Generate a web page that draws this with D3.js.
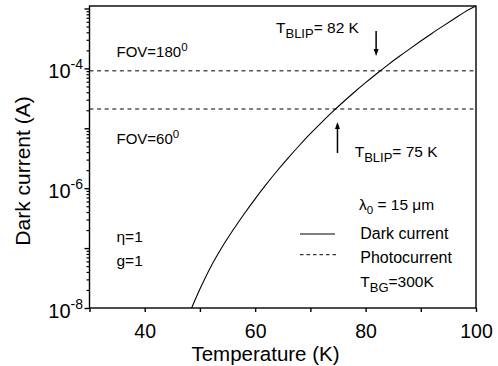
<!DOCTYPE html>
<html><head><meta charset="utf-8">
<script src="https://cdn.jsdelivr.net/npm/d3@7"></script>
<style>
html,body{margin:0;padding:0;background:#fff;}
svg{display:block;font-family:"Liberation Sans",Arial,Helvetica,sans-serif;}
</style></head>
<body><svg id="c" width="498" height="366"></svg>
<script>
// ---- data ----
const temperature = [48.5,50,52,54,56,58,60,62,64,66,68,70,72,74,76,78,80,82,84,86,88,90,92,94,96,98,100];
const darkCurrent = [1.0e-8,2.07e-8,4.95e-8,1.035e-7,2.0e-7,3.71e-7,6.65e-7,1.156e-6,1.954e-6,3.21e-6,5.16e-6,8.11e-6,1.245e-5,1.875e-5,2.77e-5,4.03e-5,5.77e-5,8.15e-5,1.135e-4,1.56e-4,2.12e-4,2.86e-4,3.83e-4,5.07e-4,6.68e-4,8.77e-4,1.1e-3];
const fovLabels = ["FOV=180", "FOV=60"];
const photoCurrent = [9.1e-5, 2.1e-5];
const tBlip = [82, 75];
const xTicks = [30,40,50,60,70,80,90,100];
const xTickLabels = [40,60,80,100];
const yMajorExp = [-8,-7,-6,-5,-4,-3];
const yLabelExp = [-8,-6,-4];

const svg = d3.select("#c");
const L=89.5, R=476, T=6, B=308;
const x = d3.scaleLinear().domain([30,100]).range([L,R]);
const y = d3.scaleLog().domain([1e-8,1.1e-3]).range([B,T]);
const ink="#000";

// clip
svg.append("defs").append("clipPath").attr("id","clip")
  .append("rect").attr("x",L).attr("y",T).attr("width",R-L).attr("height",B-T);

// photocurrent dashed lines
svg.append("g").attr("clip-path","url(#clip)").selectAll("line").data(photoCurrent).join("line")
  .attr("x1",x(30)).attr("x2",x(100))
  .attr("y1",d=>y(d)).attr("y2",d=>y(d))
  .attr("stroke",ink).attr("stroke-width",1).attr("stroke-dasharray","4,3.6");

// dark current curve
const line = d3.line().x((d,i)=>x(temperature[i])).y(d=>y(d)).curve(d3.curveMonotoneX);
svg.append("path").attr("clip-path","url(#clip)").datum(darkCurrent).attr("d",line)
  .attr("fill","none").attr("stroke",ink).attr("stroke-width",1.1);

// frame
svg.append("rect").attr("x",L).attr("y",T).attr("width",R-L).attr("height",B-T)
  .attr("fill","none").attr("stroke",ink).attr("stroke-width",1.4);

// x axis
const xa = svg.append("g").attr("transform",`translate(0,${B})`)
  .call(d3.axisBottom(x).tickValues(xTicks).tickSize(4).tickFormat(d=>xTickLabels.includes(d)?d:""));
xa.select(".domain").remove();
xa.selectAll(".tick line").attr("stroke",ink).attr("stroke-width",1.4);
xa.selectAll(".tick text").attr("y",30).attr("dy",0).attr("font-size",19.5).attr("fill",ink)
  .attr("font-family","Liberation Sans, Arial, sans-serif");

// y axis
const majors = yMajorExp.map(e=>Math.pow(10,e));
const minors = [];
yMajorExp.forEach(e=>{for(let m=2;m<=9;m++){const v=m*Math.pow(10,e); if(v<=1.1e-3) minors.push(v);}});
const ya = svg.append("g").attr("transform",`translate(${L},0)`)
  .call(d3.axisLeft(y).tickValues(majors).tickSize(5).tickFormat(""));
ya.select(".domain").remove();
ya.selectAll(".tick line").attr("stroke",ink).attr("stroke-width",1.4);
const ym = svg.append("g").attr("transform",`translate(${L},0)`)
  .call(d3.axisLeft(y).tickValues(minors).tickSize(3).tickFormat(""));
ym.select(".domain").remove();
ym.selectAll(".tick line").attr("stroke",ink).attr("stroke-width",1.2);

// y labels
const yl = svg.append("g").selectAll("text").data(yLabelExp).join("text")
  .attr("x",83).attr("y",e=>y(Math.pow(10,e))+10).attr("text-anchor","end")
  .attr("font-size",20).attr("fill",ink);
yl.append("tspan").text("10");
yl.append("tspan").attr("dy",-9).attr("font-size",14).text(e=>"-"+(-e));

// axis titles
svg.append("text").attr("x",(188+343)/2).attr("y",360.5).attr("text-anchor","middle")
  .attr("font-size",20.5).attr("fill",ink).text("Temperature (K)");
svg.append("text").attr("transform","translate(30,171) rotate(-90)").attr("text-anchor","middle")
  .attr("font-size",21).attr("fill",ink).text("Dark current (A)");

// annotations
const fs=15.5, sub=13;
function fov(xp,yp,txt){
  const t=svg.append("text").attr("x",xp).attr("y",yp).attr("font-size",15).attr("fill",ink);
  t.append("tspan").text(txt);
  t.append("tspan").attr("dy",-6).attr("font-size",11.5).text("0");
}
fov(116.5,57,fovLabels[0]);
fov(116.5,144,fovLabels[1]);

function blip(xp,yp,val){
  const t=svg.append("text").attr("x",xp).attr("y",yp).attr("font-size",fs).attr("fill",ink);
  t.append("tspan").text("T");
  t.append("tspan").attr("dy",5).attr("font-size",sub).text("BLIP");
  t.append("tspan").attr("dy",-5).text("= "+val+" K");
}
blip(276,33.3,tBlip[0]);
blip(354.7,156.7,tBlip[1]);

// arrows
function arrow(xp,y1,y2){
  const dir = y2>y1?1:-1;
  svg.append("line").attr("x1",xp).attr("x2",xp).attr("y1",y1).attr("y2",y2-dir*6)
    .attr("stroke",ink).attr("stroke-width",1.5);
  svg.append("path").attr("d",`M${xp-2.5},${y2-dir*7}L${xp+2.5},${y2-dir*7}L${xp},${y2}Z`).attr("fill",ink);
}
arrow(x(tBlip[0])-0.5,31,56);
arrow(x(tBlip[1])-0.5,153,122);

// eta, g
svg.append("text").attr("x",116.5).attr("y",242).attr("font-size",15.5).attr("fill",ink).text("η=1");
svg.append("text").attr("x",116.5).attr("y",265.7).attr("font-size",15.5).attr("fill",ink).text("g=1");

// lambda
const lt=svg.append("text").attr("x",359).attr("y",209.7).attr("font-size",fs).attr("fill",ink);
lt.append("tspan").text("λ");
lt.append("tspan").attr("dy",4).attr("font-size",11.5).text("0");
lt.append("tspan").attr("dy",-4).text(" = 15 μm");

// legend
svg.append("line").attr("x1",300).attr("x2",335).attr("y1",234).attr("y2",234).attr("stroke",ink).attr("stroke-width",1.1);
svg.append("line").attr("x1",300).attr("x2",336).attr("y1",254.7).attr("y2",254.7).attr("stroke",ink).attr("stroke-width",1).attr("stroke-dasharray","3.5,3");
svg.append("text").attr("x",360.3).attr("y",239).attr("font-size",16).attr("fill",ink).text("Dark current");
svg.append("text").attr("x",360.3).attr("y",263).attr("font-size",16).attr("fill",ink).text("Photocurrent");
const tb=svg.append("text").attr("x",360.3).attr("y",287).attr("font-size",fs).attr("fill",ink);
tb.append("tspan").text("T");
tb.append("tspan").attr("dy",5).attr("font-size",sub).text("BG");
tb.append("tspan").attr("dy",-5).text("=300K");
</script></body></html>
